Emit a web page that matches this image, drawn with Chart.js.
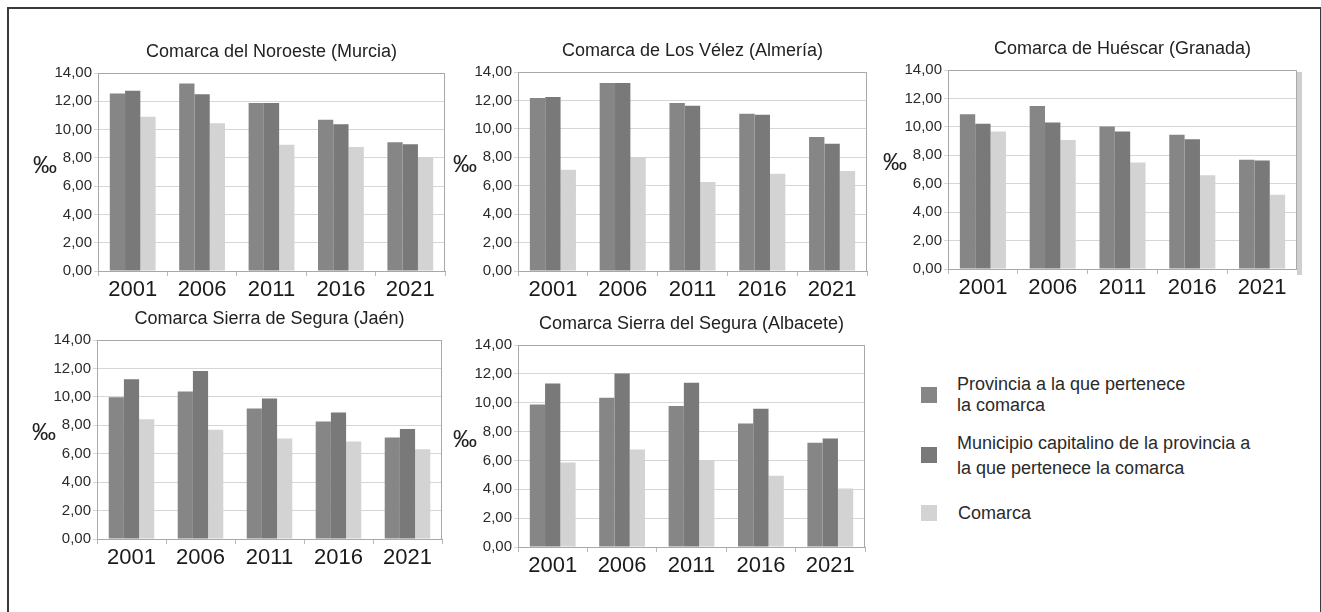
<!DOCTYPE html>
<html>
<head>
<meta charset="utf-8">
<script src="https://cdn.jsdelivr.net/npm/chart.js@4/dist/chart.umd.min.js"></script>
<style>
    html, body { margin: 0; padding: 0; background: #fff; overflow: hidden; }
    body { width: 1321px; height: 612px; position: relative; font-family: "Liberation Sans", Arial, sans-serif; }
    .frame { position: absolute; left: 7px; top: 7px; width: 1311px; height: 640px; border: 2px solid #3a3a3a; border-bottom: none; }
    .box { position: absolute; }
    .sq { position: absolute; width: 16px; height: 16px; }
    .lg { position: absolute; font-size: 18px; color: #2a2a2a; line-height: 20px; white-space: nowrap; }
</style>
</head>
<body>
<div class="frame"></div>
<div class="box" id="b1"><canvas id="c1"></canvas></div>
<div class="box" id="b2"><canvas id="c2"></canvas></div>
<div class="box" id="b3"><canvas id="c3"></canvas></div>
<div class="box" id="b4"><canvas id="c4"></canvas></div>
<div class="box" id="b5"><canvas id="c5"></canvas></div>

<div class="sq" style="left:921px;top:387px;background:#868686"></div>
<div class="lg" style="left:957px;top:374px">Provincia a la que pertenece</div>
<div class="lg" style="left:957px;top:395px">la comarca</div>
<div class="sq" style="left:921px;top:447px;background:#797979"></div>
<div class="lg" style="left:957px;top:433px">Municipio capitalino de la provincia a</div>
<div class="lg" style="left:957px;top:458px">la que pertenece la comarca</div>
<div class="sq" style="left:921px;top:505px;background:#d3d3d3"></div>
<div class="lg" style="left:958px;top:503px">Comarca</div>

<script>
const years = ['2001', '2006', '2011', '2016', '2021'];
const seriesNames = ['Provincia a la que pertenece la comarca', 'Municipio capitalino de la provincia a la que pertenece la comarca', 'Comarca'];

const noroesteProv = [12.55, 13.25, 11.88, 10.70, 9.10];
const noroesteMuni = [12.75, 12.50, 11.88, 10.37, 8.96];
const noroesteCom  = [10.90, 10.45, 8.93, 8.77, 8.06];

const velezProv = [12.17, 13.23, 11.82, 11.07, 9.43];
const velezMuni = [12.24, 13.23, 11.63, 11.00, 8.96];
const velezCom  = [7.13, 8.02, 6.26, 6.85, 7.04];

const huescarProv = [10.89, 11.47, 10.02, 9.44, 7.68];
const huescarMuni = [10.21, 10.30, 9.67, 9.13, 7.63];
const huescarCom  = [9.67, 9.08, 7.49, 6.60, 5.22];

const jaenProv = [9.97, 10.37, 9.18, 8.27, 7.14];
const jaenMuni = [11.24, 11.82, 9.88, 8.90, 7.73];
const jaenCom  = [8.43, 7.68, 7.07, 6.86, 6.32];

const albaceteProv = [9.88, 10.34, 9.77, 8.56, 7.22];
const albaceteMuni = [11.34, 12.03, 11.39, 9.58, 7.52];
const albaceteCom  = [5.86, 6.76, 6.02, 4.93, 4.05];

const FONT = '"Liberation Sans", Arial, sans-serif';
const colors = ['#868686', '#797979', '#d3d3d3'];

// margins around the plot area inside each canvas
const L = 80, T = 45, R = 12, B = 36, YW = 45, XH = 30;

// draws title, the ‰ label and the plot frame
const decor = {
    id: 'decor',
    afterDraw(chart, args, opts) {
        const ctx = chart.ctx;
        const a = chart.chartArea;
        ctx.save();
        ctx.strokeStyle = '#a8a8a8';
        ctx.lineWidth = 1;
        ctx.beginPath();
        ctx.moveTo(a.left, a.top + 0.5);
        ctx.lineTo(a.right - 0.5, a.top + 0.5);
        ctx.lineTo(a.right - 0.5, a.bottom);
        ctx.stroke();
        if (opts.shadow) {
            ctx.fillStyle = '#cfcfcf';
            ctx.fillRect(a.right, a.top + 2, 5, a.bottom - a.top + 4);
        }
        ctx.fillStyle = '#222';
        ctx.textAlign = 'center';
        ctx.textBaseline = 'middle';
        ctx.font = '18px ' + FONT;
        ctx.fillText(opts.title, (a.left + a.right) / 2, a.top - 21);
        ctx.font = '24px ' + FONT;
        ctx.fillText('‰', a.left - 53, a.top + (a.bottom - a.top) * 0.47);
        ctx.restore();
    }
};

function makeChart(id, boxId, plot, title, prov, muni, com, shadow) {
    const box = document.getElementById(boxId);
    const w = plot.right - plot.left + L + R;
    const h = plot.bottom - plot.top + T + B;
    box.style.left = (plot.left - L) + 'px';
    box.style.top = (plot.top - T) + 'px';
    box.style.width = w + 'px';
    box.style.height = h + 'px';

    const ctx = document.getElementById(id).getContext('2d');
    return new Chart(ctx, {
        type: 'bar',
        data: {
            labels: years,
            datasets: [prov, muni, com].map((d, i) => ({
                label: seriesNames[i],
                data: d,
                backgroundColor: colors[i],
                borderWidth: 0,
                barPercentage: 1,
                categoryPercentage: 0.66
            }))
        },
        options: {
            responsive: true,
            maintainAspectRatio: false,
            animation: false,
            layout: { padding: { left: L - YW, top: T, right: R, bottom: B - XH } },
            plugins: {
                legend: { display: false },
                tooltip: { enabled: false },
                decor: { title: title, shadow: !!shadow }
            },
            scales: {
                x: {
                    afterFit: (s) => { s.height = XH; },
                    border: { color: '#a8a8a8' },
                    grid: { drawOnChartArea: false, tickLength: 5, color: '#b8b8b8' },
                    ticks: { color: '#1a1a1a', padding: 1, font: { family: FONT, size: 22 } }
                },
                y: {
                    min: 0,
                    max: 14,
                    afterFit: (s) => { s.width = YW; },
                    border: { color: '#a8a8a8' },
                    grid: { color: '#d6d6d6', tickLength: 4 },
                    ticks: {
                        stepSize: 2,
                        color: '#2a2a2a',
                        padding: 2,
                        font: { family: FONT, size: 15 },
                        callback: (v) => v.toFixed(2).replace('.', ',')
                    }
                }
            }
        },
        plugins: [decor]
    });
}

makeChart('c1', 'b1', { left: 98, top: 73, right: 445, bottom: 271 }, 'Comarca del Noroeste (Murcia)', noroesteProv, noroesteMuni, noroesteCom);
makeChart('c2', 'b2', { left: 518, top: 72, right: 867, bottom: 271 }, 'Comarca de Los Vélez (Almería)', velezProv, velezMuni, velezCom);
makeChart('c3', 'b3', { left: 948, top: 70, right: 1297, bottom: 269 }, 'Comarca de Huéscar (Granada)', huescarProv, huescarMuni, huescarCom, true);
makeChart('c4', 'b4', { left: 97, top: 340, right: 442, bottom: 539 }, 'Comarca Sierra de Segura (Jaén)', jaenProv, jaenMuni, jaenCom);
makeChart('c5', 'b5', { left: 518, top: 345, right: 865, bottom: 547 }, 'Comarca Sierra del Segura (Albacete)', albaceteProv, albaceteMuni, albaceteCom);
</script>
</body>
</html>
